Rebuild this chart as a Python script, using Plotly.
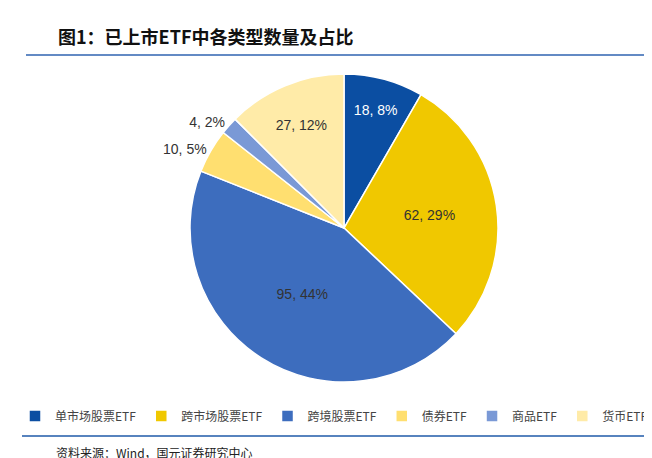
import plotly.graph_objects as go

categories = ["单市场股票ETF", "跨市场股票ETF", "跨境股票ETF", "债券ETF", "商品ETF", "货币ETF"]
counts = [18, 62, 95, 10, 4, 27]
percents = ["8%", "29%", "44%", "5%", "2%", "12%"]
colors = ["#0B4EA2", "#F0C800", "#3D6DBE", "#FFDF70", "#7A99D6", "#FFEBA8"]

W, H = 652, 458
def px(x): return x / W
def py(y): return 1 - y / H

labels_txt = [f"{c}, {p}" for c, p in zip(counts, percents)]
fig = go.Figure(go.Pie(
    labels=categories, values=counts, text=labels_txt, texttemplate="%{text}",
    textinfo="text", sort=False, direction="clockwise", rotation=0,
    marker=dict(colors=colors, line=dict(color="white", width=1.5)),
    textposition=["inside", "inside", "inside", "outside", "outside", "inside"],
    insidetextorientation="horizontal",
    insidetextfont=dict(color=["white", "#333", "#333", "#333", "#333", "#333"], size=14,
                        family="Liberation Sans, Arial, sans-serif"),
    outsidetextfont=dict(color="#333", size=14, family="Liberation Sans, Arial, sans-serif"),
    domain=dict(x=[px(182), px(490)], y=[py(374), py(66)]),
    hoverinfo="label+value+percent",
))
fig.update_layout(
    width=W, height=H, margin=dict(l=0, r=0, t=0, b=0),
    paper_bgcolor="white", font=dict(family="Noto Sans CJK SC, Liberation Sans, sans-serif", color="#333"),
    legend=dict(orientation="h", x=0.5, xanchor="center", y=py(408), yanchor="middle",
                font=dict(size=12, color="#444"), itemwidth=30, traceorder="normal",
                entrywidthmode="pixels", entrywidth=0, tracegroupgap=0),
    annotations=[
        dict(text="<b>图1：已上市ETF中各类型数量及占比</b>", x=px(48), y=py(28), xref="paper", yref="paper",
             xanchor="left", yanchor="middle", showarrow=False, font=dict(size=18, color="#111")),
        dict(text="资料来源：Wind，国元证券研究中心", x=px(46), y=py(444), xref="paper", yref="paper",
             xanchor="left", yanchor="middle", showarrow=False, font=dict(size=12, color="#222")),
    ],
    shapes=[
        dict(type="line", xref="paper", yref="paper", x0=px(18), x1=px(644), y0=py(47), y1=py(47),
             line=dict(color="#2F63B0", width=1.5)),
        dict(type="line", xref="paper", yref="paper", x0=px(14), x1=px(640), y0=py(428), y1=py(428),
             line=dict(color="#1F5AA8", width=1.5)),
    ],
)
fig.write_html("out.html")
